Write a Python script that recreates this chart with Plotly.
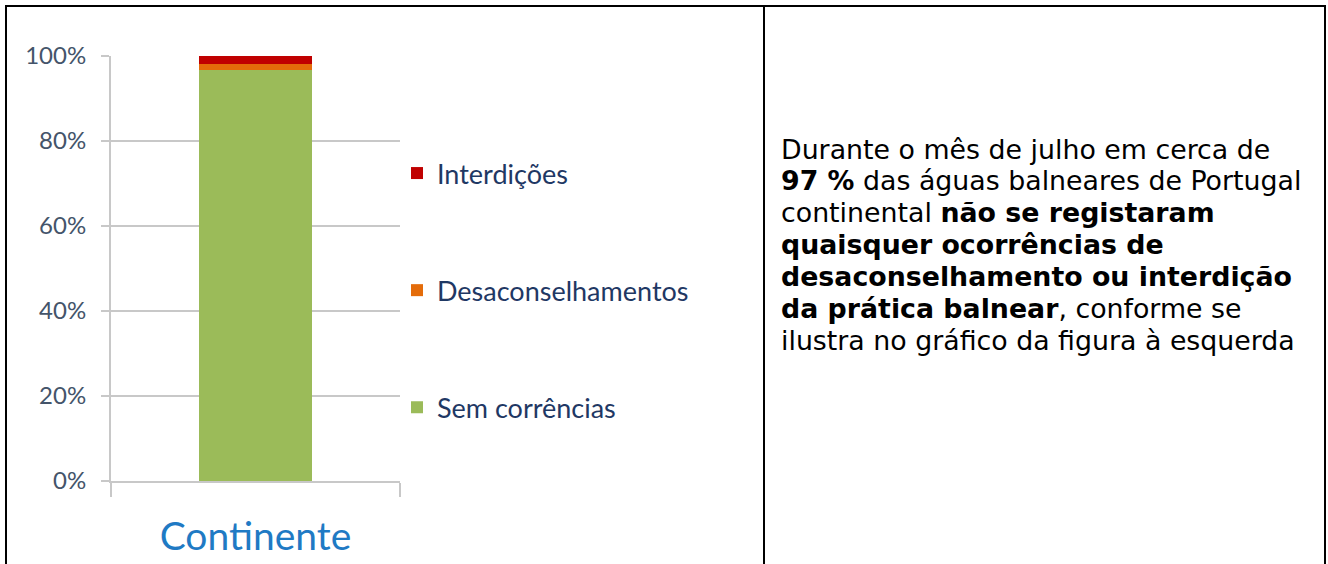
import plotly.graph_objects as go

W, H = 1328, 564

categories = ["Continente"]
series_names = ["Sem corrências", "Desaconselhamentos", "Interdições"]
series_values = [[0.967], [0.014], [0.019]]
series_colors = ["#9BBB59", "#E46C0A", "#C00000"]
legend_ranks = [3, 2, 1]
y_ticks = [0, 0.2, 0.4, 0.6, 0.8, 1.0]
y_tick_labels = ["0%", "20%", "40%", "60%", "80%", "100%"]

text_lines = [
    "Durante o mês de julho em cerca de",
    "<b>97 %</b> das águas balneares de Portugal",
    "continental <b>não se registaram</b>",
    "<b>quaisquer ocorrências de</b>",
    "<b>desaconselhamento ou interdição</b>",
    "<b>da prática balnear</b>, conforme se",
    "ilustra no gráfico da figura à esquerda",
]


def px(x):
    return x / W


def py(y):
    return (H - y) / H


fig = go.Figure()
for name, vals, col, rank in zip(series_names, series_values, series_colors, legend_ranks):
    fig.add_trace(go.Bar(
        x=categories, y=vals, name=name, marker=dict(color=col, line=dict(width=0)),
        legendgroup=name, legendrank=rank, hoverinfo="skip",
    ))

grid_col = "#C8C8C8"
fig.update_layout(
    width=W, height=H, autosize=False,
    margin=dict(l=0, r=0, t=0, b=0, pad=0),
    paper_bgcolor="white", plot_bgcolor="white",
    barmode="stack", bargap=0.606,
    showlegend=True,
    legend=dict(
        x=px(397), y=py(149), xanchor="left", yanchor="top",
        traceorder="grouped", tracegroupgap=79,
        font=dict(family="Lato", size=27, color="#1F3864"),
        bgcolor="rgba(0,0,0,0)", itemclick=False, itemdoubleclick=False,
    ),
    xaxis=dict(
        domain=[px(111), px(400)], range=[-0.5, 0.5], automargin=False,
        showline=True, linecolor=grid_col, linewidth=2,
        ticks="outside", tickson="boundaries", ticklen=14, tickcolor=grid_col, tickwidth=2,
        ticklabelstandoff=20,
        tickfont=dict(family="Lato", size=39, color="#1F7AC4"),
        showgrid=False, zeroline=False, fixedrange=True,
    ),
    yaxis=dict(
        domain=[py(481), py(56)], range=[0, 1], automargin=False,
        tickvals=y_ticks, ticktext=y_tick_labels,
        showline=True, linecolor=grid_col, linewidth=2,
        ticks="outside", ticklen=8, tickcolor=grid_col, tickwidth=2,
        ticklabelstandoff=10,
        showgrid=True, gridcolor=grid_col, gridwidth=2,
        zeroline=False,
        tickfont=dict(family="Lato", size=24, color="#44546A"),
        fixedrange=True,
    ),
)

# table borders
border = dict(color="black", width=2)
for x0, y0, x1, y1 in [(5, 6, 1326, 6), (6, 6, 6, 564), (764, 6, 764, 564), (1325, 6, 1325, 564)]:
    fig.add_shape(type="line", xref="paper", yref="paper",
                  x0=px(x0), y0=py(y0), x1=px(x1), y1=py(y1), line=border)

baseline0 = 158
line_step = 31.9
for i, line in enumerate(text_lines):
    fig.add_annotation(
        xref="paper", yref="paper", x=px(779), y=py(baseline0 + i * line_step - 9),
        xanchor="left", yanchor="middle",
        text=line, showarrow=False, align="left",
        font=dict(family="DejaVu Sans", size=26.8, color="black"),
    )

fig.write_html(
    "out.html",
    config={"displayModeBar": False},
    post_script="document.body.style.margin='0';document.body.style.overflow='hidden';",
)
